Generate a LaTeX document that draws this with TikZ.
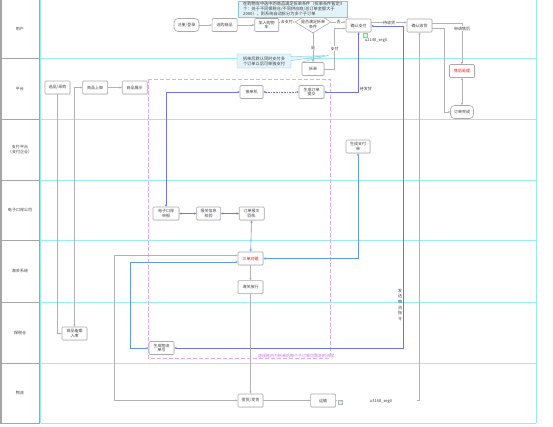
\documentclass[tikz,border=0pt]{standalone}
\usepackage{fontspec}
\setmainfont{Noto Sans CJK SC}
\usetikzlibrary{positioning,shapes.geometric,shapes.callouts,arrows.meta,shadows}

\definecolor{lanecyan}{RGB}{150,238,240}
\definecolor{lanegray}{RGB}{165,165,165}
\definecolor{boxgray}{RGB}{170,170,170}
\definecolor{linkgray}{RGB}{178,178,178}
\definecolor{linkblue}{RGB}{110,115,235}
\definecolor{linksky}{RGB}{95,155,235}
\definecolor{notefill}{RGB}{226,244,250}
\definecolor{noteline}{RGB}{130,200,225}
\definecolor{splitpink}{RGB}{228,170,248}
\definecolor{splittext}{RGB}{185,115,235}
\definecolor{txtgray}{RGB}{60,60,60}

\tikzset{
  tiny/.style={font=\fontsize{4}{4.8}\selectfont, text=txtgray},
  box/.style={tiny, draw=boxgray, fill=white, line width=0.6pt, rounded corners=1pt,
    minimum width=25pt, minimum height=13pt, inner sep=0.5pt, align=center,
    drop shadow={shadow xshift=0.5pt, shadow yshift=-0.5pt, opacity=0.2}},
  term/.style={box, rounded corners=4pt},
  hot/.style={text=red},
  cond/.style={draw=boxgray, fill=white, line width=0.6pt, shape=diamond,
    minimum width=36pt, minimum height=22pt, inner sep=0pt},
  link/.style={draw=linkgray, line width=0.6pt, >={Stealth[length=2.4pt,width=2.2pt]}},
  blink/.style={link, draw=linkblue},
  slink/.style={link, draw=linksky},
  lbl/.style={tiny, fill=white, inner sep=0.5pt},
  memo/.style={tiny, font=\fontsize{4.2}{4.9}\selectfont, draw=noteline, fill=notefill,
    align=left, inner sep=1pt},
  pic/.style={draw=gray!60, fill=green!20, minimum size=4pt, inner sep=0pt},
}

\begin{document}
\begin{tikzpicture}[x=1pt,y=-1pt]
\useasboundingbox (0,0) rectangle (553,426);

% lanes
\draw[lanegray, line width=1.5pt] (0.75,0) -- (0.75,423);
\draw[lanegray, line width=0.6pt] (39.5,0) -- (39.5,423);
\draw[lanecyan, line width=0.6pt] (40.5,0) -- (40.5,423) (536,0) -- (536,423);
\foreach \ya/\yb/\name [count=\i] in {0/58/用户, 58/119/平台, 119/180/{支付平台\\（支付企业）},
    180/240/电子口岸公司, 240/302/海关系统, 302/363/保税仓, 363/423/物流}{
  \draw[lanegray, line width=0.6pt] (0,\yb) -- (39.5,\yb);
  \draw[lanecyan, line width=0.6pt] (40.5,\yb) -- (536,\yb);
  \node[tiny, align=center] (lane\i) at (20,{(\ya+\yb)/2}) {\name};
}

\draw[splitpink, dash pattern=on 4pt off 2pt, line width=0.8pt] (148,79) rectangle (330,358);

% user
\node[term] (reg) at (186.5,25) {注册/登录};
\node[box, right=12.5pt of reg] (pick) {选购商品};
\node[box, minimum width=24pt, right=17pt of pick] (cart) {加入购物\\车};
\node[cond] (ask) at (313,22) {};
\node[tiny, align=center] (askt) at (313,24.5) {是否满足拆单\\条件};
\node[memo, anchor=south west, minimum width=109pt] (memo1) at (238,17)
  {在购物车中选中的商品满足拆单条件（拆单条件暂定3\\个：处于不同保税仓/不同供应商/总订单金额大于\\2000），则系统自动拆分为多个子订单};
\node[box, minimum width=22pt] (split) at (313,69) {拆单};
\node[memo, rectangle callout, callout relative pointer={(34pt,3pt)}, callout pointer width=4pt,
  minimum width=54pt, minimum height=14pt, align=center] (tip) at (264,61)
  {拆单后默认同时支付多\\个订单以后可单独支付};
\node[box] (pay) at (358.5,25.5) {确认支付};
\node[pic] (ico1) at (365,35) {};
\node[tiny] (cap1) at (376,41) {u2148\_seg0};
\node[box] (recv) at (419.5,25.5) {确认收货};
\node[box, hot] (after) at (462,71) {售后处理};
\node[term, minimum width=23pt] (done) at (462,112) {订单完成};

% platform
\node[box] (sel) at (57.5,87.5) {选品/采购};
\node[box, right=12pt of sel] (shelf) {商品上架};
\node[box, right=14pt of shelf] (show) {商品展示};
\node[box, minimum width=23pt] (push) at (251.5,92) {接单机};
\node[box] (ordsub) at (311.5,92) {生成订单\\提交};

% payment, e-port, customs
\node[box, minimum width=24pt] (paybill) at (358,146.5) {生成支付\\单};
\node[box, minimum width=26pt] (eport) at (166,213.5) {电子口岸\\申报};
\node[box, minimum width=24pt, right=17pt of eport] (check) {报关信息\\校验};
\node[box, right=18pt of check] (ordrec) {订单报文\\回执};
\node[box, hot] (match) at (250.5,258.5) {三单对碰};
\node[box, below=15pt of match] (release) {海关放行};

% warehouse, logistics
\node[box] (goods) at (74.5,333.5) {商品备案\\入库};
\node[box] (logi) at (161.5,348) {生成物流\\单号};
\coordinate (bend) at (403,348);
\node[box] (ship) at (250.5,400.5) {揽货/发货};
\node[box, right=47pt of ship] (trans) {运输};

% edges
\draw[link,->] (reg) -- (pick);
\draw[link,->] (pick) -- (cart);
\draw[link,->] (cart.east |- ask) -- node[lbl] {去支付} (ask);
\draw[link,->] (ask) -- node[lbl] {否} (ask -| pay.west);
\draw[link,->] (ask) -- node[lbl] {是} (split);
\draw[link,->] (split) -| node[lbl, pos=0.75] {支付} ([xshift=-11pt,yshift=-3pt]pay.west) -- ([yshift=-3pt]pay.west);
\draw[noteline, line width=0.5pt] (tip.pointer) -- (split.north west);
\draw[link,->] ([yshift=3pt]pay.east) -- node[lbl] {待收货} ([yshift=3pt]recv.west);
\draw[link,->] ([yshift=2.5pt]recv.east) -| node[lbl, pos=0.57] {申请售后} (after);
\draw[link,<->] (after) -- (done);
\draw[link,->] ([yshift=-2.5pt]recv.east) -| ([xshift=-6pt]done.west) -- (done);

\draw[link,->] (sel) |- (goods);
\draw[link,<->] (goods) |- (shelf);
\draw[link,->] (shelf) -- (show);

\draw[blink,<->] (pay) |- node[tiny, pos=0.5, anchor=south west, inner sep=1pt] {待发货} (ordsub);
\draw[blink,<->,densely dotted] (ordsub) -- (push);
\draw[blink,<->] (push.west) -| (eport);
\draw[blink,<->] (eport) -- (check);
\draw[blink,<->] (check) -- (ordrec);
\draw[slink,<->] (ordrec) -- (match);
\draw[slink,<->] (match) -| (paybill);
\draw[blink,<->] ([yshift=-0.5pt]pay.east) -| node[tiny, pos=0.933, anchor=east, inner sep=0.6pt, align=center,
  font=\fontsize{4}{5.7}\selectfont] {发\\送\\物\\流\\指\\令} (bend) -- (logi);
\draw[slink,<->] ([yshift=-3.5pt]match.west) -| ([xshift=-18pt]logi.west) -- (logi);
\draw[link,<->] ([yshift=3pt]match.west) -| ([xshift=-123pt]ship.west) -- (ship);
\draw[link,->] (match) -- (release);
\draw[link,->] (release) -- (ship);
\draw[link,->] (ship) -- (trans);
\draw[link,->] (trans) -| (recv);

\node[fill=white, minimum width=80pt, minimum height=16pt, inner sep=0pt, anchor=west] (img2) at (337,400.5) {};
\node[pic] (ico2) at (340,402) {};
\node[tiny] (cap2) at (381,402) {u3168\_seg0};
\node[tiny, text=splittext, fill=white, inner sep=0.5pt] (zonenote) at (296,356) {虚线框内为拆单后每个子订单均需走的流程};
\end{tikzpicture}
\end{document}
